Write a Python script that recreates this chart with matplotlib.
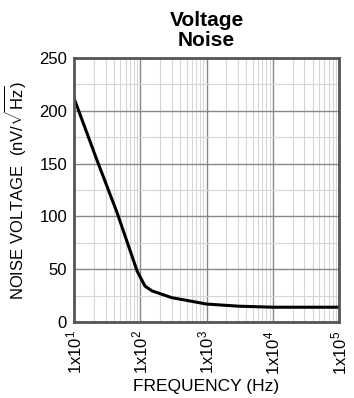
import numpy as np
import matplotlib.pyplot as plt
from matplotlib.ticker import FixedLocator, NullFormatter

plt.rcParams['font.family'] = ['Liberation Sans', 'DejaVu Sans']
plt.rcParams['mathtext.fontset'] = 'custom'
plt.rcParams['mathtext.rm'] = 'Liberation Sans'
plt.rcParams['mathtext.it'] = 'Liberation Sans'

czestotliwosc = [10, 22, 45, 90, 118, 150, 300, 500, 1000, 3000, 10000, 100000]
szum = [212, 154, 103, 48, 34, 29.5, 23, 20.5, 17, 15, 14, 14]

dekady = [10, 100, 1000, 10000, 100000]
etykiety_x = [r'$\mathregular{1x10^{%d}}$' % k for k in range(1, 6)]
yticks = [0, 50, 100, 150, 200, 250]

fig = plt.figure(figsize=(3.54, 3.98), dpi=100)
ax = fig.add_axes([74/354, 1 - 322/398, 265/354, 264/398])

ax.plot(czestotliwosc, szum, color='black', lw=2.2, solid_joinstyle='round')
ax.set_xscale('log')
ax.set_xlim(10, 100000)
ax.set_ylim(0, 250)

ax.set_xticks(dekady)
ax.set_xticklabels(etykiety_x, rotation=90, fontsize=12)
minor_x = [m * d for d in dekady[:-1] for m in range(2, 10)]
ax.xaxis.set_minor_locator(FixedLocator(minor_x))
ax.xaxis.set_minor_formatter(NullFormatter())

ax.set_yticks(yticks)
ax.set_yticklabels([str(v) for v in yticks], fontsize=12)
ax.yaxis.set_minor_locator(FixedLocator([25, 75, 125, 175, 225]))

ax.grid(True, which='major', color='#888888', lw=1.0)
ax.grid(True, which='minor', color='#d6d6d6', lw=0.8)
ax.tick_params(which='both', length=0)
ax.tick_params(axis='y', pad=5)
ax.tick_params(axis='x', pad=6)
for s in ax.spines.values():
    s.set_color('#555555')
    s.set_linewidth(2)

ax.set_xlabel('FREQUENCY (Hz)', fontsize=12.5, labelpad=3)
ax.set_ylabel(r'NOISE VOLTAGE  (nV/$\sqrt{\mathregular{Hz}}$)', fontsize=12, labelpad=8)
ax.set_title('Voltage\nNoise', fontsize=15, fontweight='bold', linespacing=1.05, pad=9)

fig.savefig('out.png', dpi=100)
